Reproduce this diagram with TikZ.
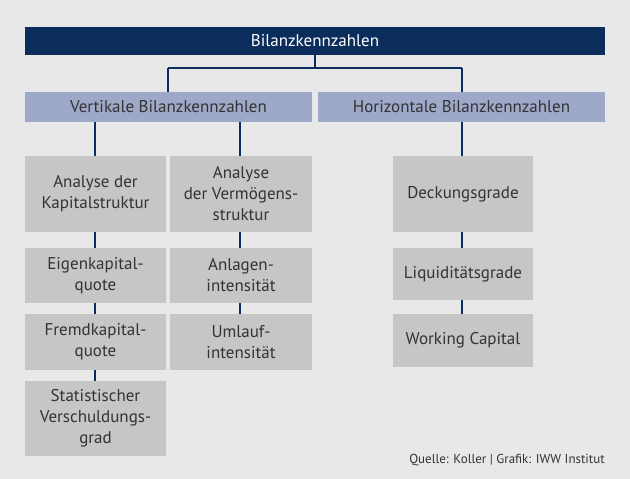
\documentclass[tikz,border=0pt]{standalone}
\usepackage{fontspec}
\setmainfont{PT Sans}
\definecolor{navy}{HTML}{0A2D5C}
\definecolor{lav}{HTML}{9EA8C8}
\definecolor{bx}{HTML}{C6C6C6}
\definecolor{bg}{HTML}{E8E8E8}
\begin{document}
\begin{tikzpicture}[x=1pt,y=-1pt,
 gbox/.style={fill=bx,align=center,font=\fontsize{17}{21}\selectfont,text=black!80,inner sep=0pt},
 conn/.style={draw=navy,line width=2.5pt}]
\fill[bg] (0,0) rectangle (630,479);
\useasboundingbox (0,0) rectangle (630,479);
\draw[conn] (315,55) -- (315,68) (168,68) -- (462,68) (168,68) -- (168,92) (462,68) -- (462,92);
\draw[conn] (95,122) -- (95,381) (240,122) -- (240,314) (462,122) -- (462,314);
\node[fill=navy,text=white,minimum width=580pt,minimum height=28pt,inner sep=0pt,font=\fontsize{17}{21}\selectfont] (top) at (315,41) {Bilanzkennzahlen};
\node[fill=lav,text=black!80,minimum width=287pt,minimum height=30pt,inner sep=0pt,font=\fontsize{17}{21}\selectfont] (v) at (168.5,107) {Vertikale Bilanzkennzahlen};
\node[fill=lav,text=black!80,minimum width=287pt,minimum height=30pt,inner sep=0pt,font=\fontsize{17}{21}\selectfont] (h) at (461.5,107) {Horizontale Bilanzkennzahlen};
\node[gbox,minimum width=141pt,minimum height=76pt] (a1) at (95.5,194) {Analyse der\\Kapitalstruktur};
\node[gbox,minimum width=141pt,minimum height=55pt] (a2) at (95.5,275.5) {Eigenkapital-\\quote};
\node[gbox,minimum width=141pt,minimum height=56pt] (a3) at (95.5,342) {Fremdkapital-\\quote};
\node[gbox,minimum width=141pt,minimum height=75pt] (a4) at (95.5,418.5) {Statistischer\\Verschuldungs-\\grad};
\node[gbox,minimum width=142pt,minimum height=76pt] (b1) at (241,194) {Analyse\\der Vermögens-\\struktur};
\node[gbox,minimum width=142pt,minimum height=55pt] (b2) at (241,275.5) {Anlagen-\\intensität};
\node[gbox,minimum width=142pt,minimum height=56pt] (b3) at (241,342) {Umlauf-\\intensität};
\node[gbox,minimum width=140pt,minimum height=76pt] (c1) at (463,194) {Deckungsgrade};
\node[gbox,minimum width=140pt,minimum height=52pt] (c2) at (463,274) {Liquiditätsgrade};
\node[gbox,minimum width=140pt,minimum height=53pt] (c3) at (463,340.5) {Working Capital};
\node[anchor=east,font=\fontsize{13}{15}\selectfont,text=black!80,inner sep=0pt] (src) at (605,460) {Quelle: Koller | Grafik: IWW Institut};
\end{tikzpicture}
\end{document}
